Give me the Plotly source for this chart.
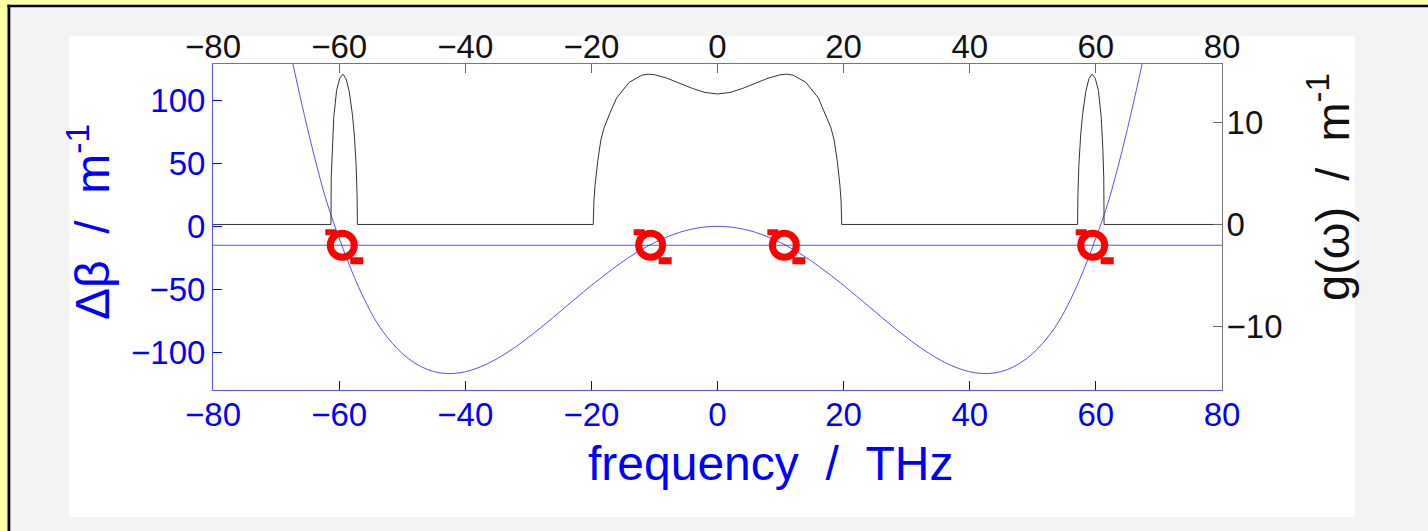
import plotly.graph_objects as go

# ---------------- data ----------------
freq_db = [-70, -68, -66, -64, -62, -60, -58, -56, -54, -52, -50, -48, -46, -44, -42, -40,
           -38, -36, -34, -32, -30, -28, -26, -24, -22, -20, -18, -16, -14, -12, -10, -8,
           -6, -4, -2, 0, 2, 4, 6, 8, 10, 12, 14, 16, 18, 20, 22, 24, 26, 28, 30, 32, 34,
           36, 38, 40, 42, 44, 46, 48, 50, 52, 54, 56, 58, 60, 62, 64, 66, 68, 70]
delta_beta = [196, 145, 99, 57, 20, -9.3, -35.5, -58.0, -76.5, -90.3, -100.9, -108.6, -113.7,
              -116.4, -116.9, -115.5, -112.4, -108.0, -102.3, -95.7, -88.3, -80.4, -72.1,
              -63.6, -55.2, -46.9, -39.0, -31.5, -24.5, -18.3, -12.9, -8.4, -4.7, -2.1, -0.5,
              0, -0.5, -2.1, -4.7, -8.4, -12.9, -18.3, -24.5, -31.5, -39.0, -46.9, -55.2,
              -63.6, -72.1, -80.4, -88.3, -95.7, -102.3, -108.0, -112.4, -115.5, -116.9,
              -116.4, -113.7, -108.6, -100.9, -90.3, -76.5, -58.0, -35.5, -9.3, 20, 57, 99,
              145, 196]

level_x = [-80, 80]
level_db = [-15, -15]

freq_gain = [-80, -61.3, -61.25, -61.1, -60.85, -60.4, -59.9, -59.4, -58.9, -58.4, -57.9,
             -57.6, -57.3, -57.15, -57.1,
             -19.7, -19.6, -19.4, -19.0, -18.5, -18, -17, -16, -14, -12, -11, -10, -8, -6,
             -4, -2, 0, 2, 4, 6, 8, 10, 11, 12, 14, 16, 17, 18, 18.5, 19.0, 19.4, 19.6, 19.7,
             57.1, 57.15, 57.3, 57.6, 57.9, 58.4, 58.9, 59.4, 59.9, 60.4, 60.85, 61.1,
             61.25, 61.3, 80]
gain = [0, 0, 4.65, 7.5, 10.55, 13.2, 14.4, 14.8, 14.35, 13.1, 10.85, 8.9, 5.8, 2.85, 0,
        0, 2.3, 3.95, 6.2, 8.3, 9.5, 11.05, 12.45, 14.0, 14.7, 14.8, 14.75, 14.4, 13.9,
        13.4, 13.0, 12.85, 13.0, 13.4, 13.9, 14.4, 14.75, 14.8, 14.7, 14.0, 12.45, 11.05,
        9.5, 8.3, 6.2, 3.95, 2.3, 0,
        0, 2.85, 5.8, 8.9, 10.85, 13.1, 14.35, 14.8, 14.4, 13.2, 10.55, 7.5, 4.65, 0, 0]

match_freq = [-59.5, -10.6, 10.6, 59.5]
match_db = [-15, -15, -15, -15]

x_ticks = [-80, -60, -40, -20, 0, 20, 40, 60, 80]
db_ticks = [-100, -50, 0, 50, 100]
gain_ticks = [-10, 0, 10]

# ---------------- layout geometry (pixels) ----------------
W, H = 1428, 531
L, R, T, B = 213, 1222, 64, 390
FONT = "Liberation Sans, Arial, Helvetica, sans-serif"
BLUE = "#0000FF"
DARK = "#111111"


def px(xp):
    return (xp - L) / (R - L)


def py(yp):
    return (B - yp) / (B - T)


fig = go.Figure()
fig.add_trace(go.Scatter(x=freq_db, y=delta_beta, mode="lines",
                         line=dict(color="rgba(40,40,230,0.8)", width=1, shape="spline"),
                         xaxis="x", yaxis="y", hoverinfo="skip"))
fig.add_trace(go.Scatter(x=level_x, y=level_db, mode="lines",
                         line=dict(color="rgba(40,40,230,0.8)", width=1),
                         xaxis="x", yaxis="y", hoverinfo="skip"))
fig.add_trace(go.Scatter(x=freq_gain, y=gain, mode="lines",
                         line=dict(color="#333333", width=1),
                         xaxis="x2", yaxis="y2", hoverinfo="skip"))
fig.add_trace(go.Scatter(x=match_freq, y=match_db, mode="markers",
                         marker=dict(symbol="circle-open", size=24, color="#FF0000",
                                     line=dict(width=7, color="#FF0000")),
                         xaxis="x", yaxis="y", hoverinfo="skip"))

shapes = [
    dict(type="rect", xref="paper", yref="paper", x0=px(10), x1=px(W), y0=py(H), y1=py(7),
         fillcolor="#F3F3F3", line=dict(width=0), layer="below"),
    dict(type="rect", xref="paper", yref="paper", x0=px(7.5), x1=px(10.3), y0=py(H), y1=py(4.7),
         fillcolor="#000000", line=dict(width=0), layer="below"),
    dict(type="rect", xref="paper", yref="paper", x0=px(7.5), x1=px(W), y0=py(7.3), y1=py(4.7),
         fillcolor="#000000", line=dict(width=0), layer="below"),
    dict(type="rect", xref="paper", yref="paper", x0=px(69), x1=px(1355), y0=py(517), y1=py(36),
         fillcolor="#FFFFFF", line=dict(width=0), layer="below"),
]
# little tabs on the red ring markers
for xm, ym in zip(match_freq, match_db):
    shapes.append(dict(type="rect", xref="x", yref="y", xsizemode="pixel", ysizemode="pixel",
                       xanchor=xm, yanchor=ym, x0=-17, x1=-6, y0=10, y1=16,
                       fillcolor="#FF0000", line=dict(width=0), layer="above"))
    shapes.append(dict(type="rect", xref="x", yref="y", xsizemode="pixel", ysizemode="pixel",
                       xanchor=xm, yanchor=ym, x0=8, x1=21, y0=-19, y1=-12,
                       fillcolor="#FF0000", line=dict(width=0), layer="above"))

annotations = [
    dict(text="frequency\u00a0\u00a0/\u00a0\u00a0THz", xref="paper", yref="paper",
         x=px(586), y=py(463), xanchor="left", yanchor="middle", showarrow=False,
         font=dict(family=FONT, size=48, color=BLUE)),
    dict(text="\u0394\u03b2\u00a0\u00a0/\u00a0\u00a0m<sup>-1</sup>", xref="paper", yref="paper",
         x=px(89), y=py(222), xanchor="center", yanchor="middle", textangle=-90,
         showarrow=False, font=dict(family=FONT, size=48, color=BLUE)),
    dict(text="g(\u03c9)\u00a0\u00a0/\u00a0\u00a0m<sup>-1</sup>", xref="paper", yref="paper",
         x=px(1329), y=py(187), xanchor="center", yanchor="middle", textangle=-90,
         showarrow=False, font=dict(family=FONT, size=47, color=DARK)),
]

axis_common = dict(showgrid=False, zeroline=False, ticks="inside", ticklen=9, showline=True,
                   linewidth=1)

fig.update_layout(
    width=W, height=H,
    margin=dict(l=L, r=W - R, t=T, b=H - B, pad=0),
    paper_bgcolor="#FFFFA8",
    plot_bgcolor="#FFFFFF",
    showlegend=False,
    shapes=shapes,
    annotations=annotations,
    xaxis=dict(range=[-80, 80], tickvals=x_ticks, tickcolor=BLUE, linecolor="#5555FF",
               ticklabelstandoff=-5,
               tickfont=dict(family=FONT, size=33, color=BLUE), **axis_common),
    xaxis2=dict(range=[-80, 80], tickvals=x_ticks, overlaying="x", side="top", anchor="y2",
                tickcolor="#666666", linecolor="#777777", ticklabelstandoff=-8,
                tickfont=dict(family=FONT, size=33, color=DARK), **axis_common),
    yaxis=dict(range=[-130, 129], tickvals=db_ticks, tickcolor=BLUE, linecolor="#5555FF",
               tickfont=dict(family=FONT, size=33, color=BLUE), **axis_common),
    yaxis2=dict(range=[-16.3, 15.8], tickvals=gain_ticks, overlaying="y", side="right",
                anchor="x2", tickcolor="#666666", linecolor="#777777", ticklabelstandoff=-3,
                tickfont=dict(family=FONT, size=33, color=DARK), **axis_common),
)

fig.write_html("out.html")
